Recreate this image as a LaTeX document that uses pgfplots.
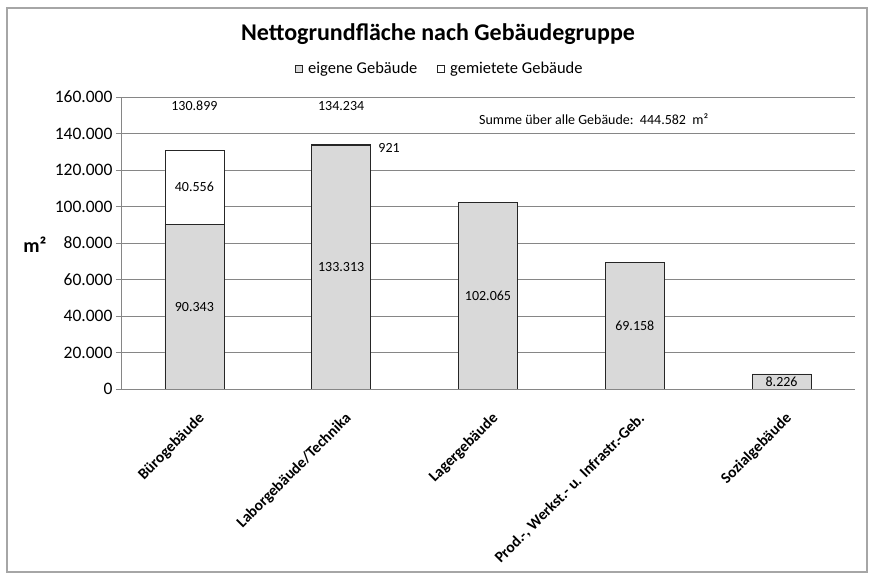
\documentclass[border=0pt]{standalone}
\usepackage{fontspec}
\setmainfont{Carlito}
\usepackage{pgfplots}
\pgfplotsset{compat=1.18}
\definecolor{barfill}{RGB}{217,217,217}
\definecolor{gridgray}{RGB}{134,134,134}
\tikzset{lbl/.style={font=\fontsize{14bp}{16bp}\selectfont}}

\begin{document}
\begin{tikzpicture}
\useasboundingbox (0,0) rectangle (873bp,575bp);
\draw[gray!70, line width=1.2bp] (7bp,3bp) rectangle (867bp,567bp);
\node[font=\fontsize{24bp}{28bp}\selectfont\bfseries] at (438bp,541bp) {Nettogrundfläche nach Gebäudegruppe};
\node[font=\fontsize{20bp}{24bp}\selectfont\bfseries] at (35bp,330bp) {m²};
\begin{axis}[
  at={(121bp,186bp)}, anchor=south west,
  scale only axis, width=734bp, height=292bp,
  ybar stacked, bar width=59bp,
  xmin=-0.5, xmax=4.5, ymin=0, ymax=160000,
  xtick={0,1,2,3,4},
  xticklabels={Bürogebäude, Laborgebäude/Technika, Lagergebäude, {Prod.-, Werkst.- u. Infrastr.-Geb.}, Sozialgebäude},
  xticklabel style={rotate=45, anchor=north east, font=\fontsize{15.5bp}{18bp}\selectfont\bfseries, xshift=-7bp, yshift=-11bp},
  x tick style={draw=none},
  ytick={0,20000,40000,60000,80000,100000,120000,140000,160000},
  yticklabels={0,20.000,40.000,60.000,80.000,100.000,120.000,140.000,160.000},
  scaled y ticks=false,
  yticklabel style={font=\fontsize{17.5bp}{20bp}\selectfont},
  ymajorgrids, grid style={gridgray, line width=0.8bp},
  axis x line*=bottom, axis y line*=left,
  axis line style={gridgray, line width=0.8bp},
  y tick style={gridgray, line width=0.8bp},
  tick align=outside, major tick length=5bp,
  legend image code/.code={\draw[#1] (0bp,-3.5bp) rectangle (7bp,3.5bp);},
  legend style={at={(0.4346,1.0959)}, anchor=center, draw=none, fill=none,
    font=\fontsize{16.5bp}{19bp}\selectfont, legend columns=2,
    /tikz/every odd column/.append style={column sep=3bp},
    /tikz/every even column/.append style={column sep=18bp}},
]
\addplot[fill=barfill, draw=black!85, line width=0.8bp] coordinates {
  (0,90343) (1,133313) (2,102065) (3,69158) (4,8226)};
\addplot[fill=white, draw=black!85, line width=0.8bp] coordinates {
  (0,40556) (1,921) (2,0) (3,0) (4,0)};
\legend{eigene Gebäude, gemietete Gebäude}

\coordinate (e0) at (axis cs:0,45171);
\coordinate (e1) at (axis cs:1,66656);
\coordinate (e2) at (axis cs:2,51032);
\coordinate (e3) at (axis cs:3,34579);
\coordinate (e4) at (axis cs:4,4113);
\coordinate (g0) at (axis cs:0,110621);
\coordinate (g1) at (axis cs:1.23,132000);
\coordinate (s0) at (axis cs:0,155300);
\coordinate (s1) at (axis cs:1,155300);
\coordinate (sum) at (axis cs:2.72,147900);
\end{axis}
\node[lbl] at (e0) {90.343};
\node[lbl] at (e1) {133.313};
\node[lbl] at (e2) {102.065};
\node[lbl] at (e3) {69.158};
\node[lbl] at (e4) {8.226};
\node[lbl] at (g0) {40.556};
\node[lbl, anchor=west] at (g1) {921};
\node[lbl] at (s0) {130.899};
\node[lbl] at (s1) {134.234};
\node[lbl] at (sum) {Summe über alle Gebäude:\ \ 444.582\ \ m²};
\end{tikzpicture}
\end{document}
